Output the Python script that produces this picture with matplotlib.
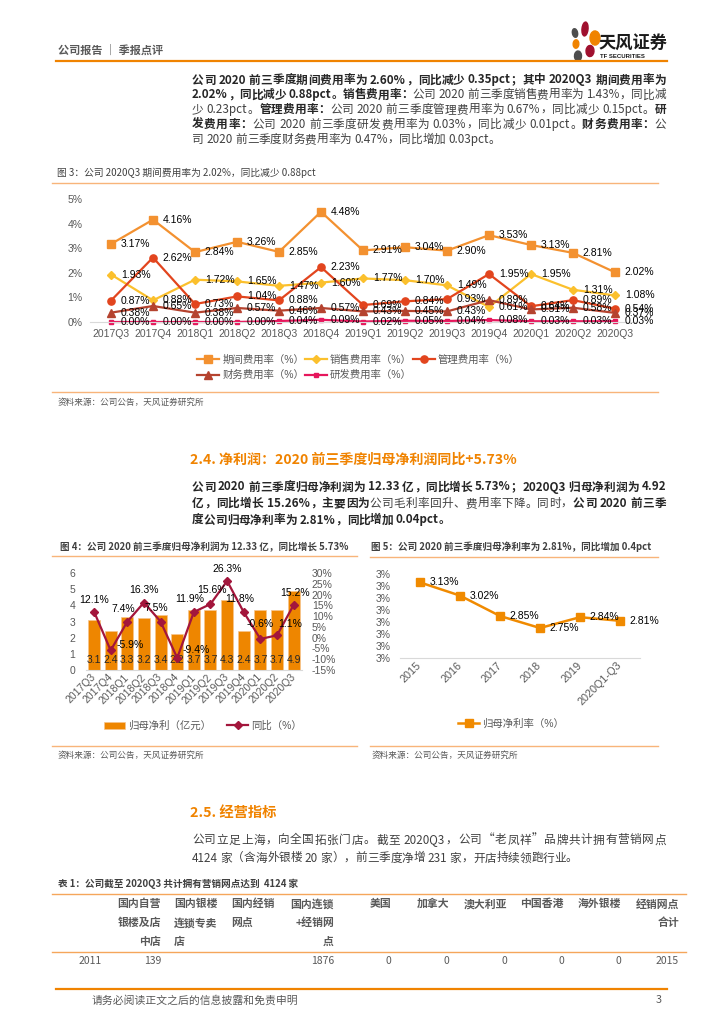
import re
import numpy as np
import matplotlib
matplotlib.use('Agg')
import matplotlib.pyplot as plt
from matplotlib.lines import Line2D
from matplotlib.patches import Ellipse
from matplotlib.ticker import FuncFormatter, MultipleLocator
from matplotlib.font_manager import FontProperties

# ---------------- data ----------------
QUARTERS = ['2017Q3', '2017Q4', '2018Q1', '2018Q2', '2018Q3', '2018Q4', '2019Q1',
            '2019Q2', '2019Q3', '2019Q4', '2020Q1', '2020Q2', '2020Q3']
PERIOD_RATE = [3.17, 4.16, 2.84, 3.26, 2.85, 4.48, 2.91, 3.04, 2.90, 3.53, 3.13, 2.81, 2.02]
SALES_RATE = [1.93, 0.88, 1.72, 1.65, 1.47, 1.60, 1.77, 1.70, 1.49, 0.61, 1.95, 1.31, 1.08]
ADMIN_RATE = [0.87, 2.62, 0.73, 1.04, 0.88, 2.23, 0.69, 0.84, 0.93, 1.95, 0.64, 0.89, 0.54]
FIN_RATE = [0.38, 0.65, 0.38, 0.57, 0.46, 0.57, 0.43, 0.45, 0.43, 0.89, 0.51, 0.58, 0.37]
RD_RATE = [0.00, 0.00, 0.00, 0.00, 0.04, 0.09, 0.02, 0.05, 0.04, 0.08, 0.03, 0.03, 0.03]
RATE_NAMES = ['期间费用率（%）', '销售费用率（%）', '管理费用率（%）', '财务费用率（%）', '研发费用率（%）']

PROFIT = [3.1, 2.4, 3.3, 3.2, 3.4, 2.2, 3.7, 3.7, 4.3, 2.4, 3.7, 3.7, 4.9]
PROFIT_YOY = [12.1, -5.9, 7.4, 16.3, 7.5, -9.4, 11.9, 15.6, 26.3, 11.8, -0.6, 1.1, 15.2]

YEARS = ['2015', '2016', '2017', '2018', '2019', '2020Q1-Q3']
NET_MARGIN = [3.13, 3.02, 2.85, 2.75, 2.84, 2.81]

TABLE_HEADER = [
    ['', '国内自营', '国内银楼', '国内经销', '国内连锁', '美国', '加拿大', '澳大利亚', '中国香港', '海外银楼', '经销网点'],
    ['', '银楼及店', '连锁专卖', '网点', '+经销网', '', '', '', '', '', '合计'],
    ['', '中店', '店', '', '点', '', '', '', '', '', ''],
]
TABLE_ROW = ['2011', '139', '', '', '1876', '0', '0', '0', '0', '0', '2015']

PARA1 = [
    [("公司 2020 前三季度期间费用率为 2.60%，同比减少 0.35pct；其中 2020Q3 期间费用率为", True)],
    [("2.02%，同比减少 0.88pct。销售费用率：", True), ("公司 2020 前三季度销售费用率为 1.43%，同比减", False)],
    [("少 0.23pct。", False), ("管理费用率：", True), ("公司 2020 前三季度管理费用率为 0.67%，同比减少 0.15pct。", False), ("研", True)],
    [("发费用率：", True), ("公司 2020 前三季度研发费用率为 0.03%，同比减少 0.01pct。", False), ("财务费用率：", True), ("公", False)],
    [("司 2020 前三季度财务费用率为 0.47%，同比增加 0.03pct。", False)],
]
PARA2 = [
    [("公司 2020 前三季度归母净利润为 12.33 亿，同比增长 5.73%；2020Q3 归母净利润为 4.92", True)],
    [("亿，同比增长 15.26%，主要因为", True), ("公司毛利率回升、费用率下降。同时，", False), ("公司 2020 前三季", True)],
    [("度公司归母净利率为 2.81%，同比增加 0.04pct。", True)],
]
PARA3 = [
    [("公司立足上海，向全国拓张门店。截至 2020Q3，公司“老凤祥”品牌共计拥有营销网点", False)],
    [("4124 家（含海外银楼 20 家），前三季度净增 231 家，开店持续领跑行业。", False)],
]

# ---------------- page helpers ----------------
W, H = 724, 1024
plt.rcParams['font.family'] = ['Liberation Sans', 'Noto Sans CJK SC']
fig = plt.figure(figsize=(7.24, 10.24), dpi=100)
renderer = fig.canvas.get_renderer()

ORANGE = '#F08300'
LIGHT_ORANGE = '#F8B47A'
GREY = '#595959'


def fx(x):
    return x / W


def fy(y):
    return 1 - y / H


def px_axes(left, top, right, bottom):
    return fig.add_axes([fx(left), fy(bottom), (right - left) / W, (bottom - top) / H])


def hline(y, x0, x1, color=LIGHT_ORANGE, lw=1.0):
    fig.add_artist(Line2D([fx(x0), fx(x1)], [fy(y), fy(y)], color=color, lw=lw,
                          transform=fig.transFigure))


def put(x, y, s, size=8, color=GREY, weight='normal', ha='left', family=None, **kw):
    fam = family or ['Noto Sans CJK SC']
    return fig.text(fx(x), fy(y), s, fontsize=size, color=color, weight=weight,
                    ha=ha, va='center', family=fam, **kw)


CJK = '\u2e80-\u9fff\u3000-\u303f\uff00-\uffef\u201c\u201d'
TOKEN_RE = re.compile('[' + CJK + ']|[^\\s' + CJK + ']+|\\s+')
_wcache = {}


def text_w(s, fp):
    key = (s, fp.get_weight(), fp.get_size())
    if key not in _wcache:
        t = fig.text(0, 0, s, fontproperties=fp)
        _wcache[key] = t.get_window_extent(renderer=renderer).width
        t.remove()
    return _wcache[key]


def para_line(x0, x1, y, segments, size=8.4, justify=True):
    # lay out token by token so the line can be justified like the report
    items = []
    for txt, bold in segments:
        fp = FontProperties(family=['Noto Sans CJK SC'], size=size,
                            weight='bold' if bold else 'normal')
        col = '#262626' if bold else '#404040'
        for tok in TOKEN_RE.findall(txt):
            if tok.isspace():
                sp = text_w('0 0', fp) - text_w('00', fp)
                items.append((None, fp, col, sp * len(tok)))
            else:
                items.append((tok, fp, col, text_w(tok, fp)))
    natural = sum(it[3] for it in items)
    gap = (x1 - x0 - natural) / max(len(items) - 1, 1) if justify else 0
    x = x0
    for tok, fp, col, w in items:
        if tok:
            fig.text(fx(x), fy(y), tok, fontproperties=fp, color=col, va='center', ha='left')
        x += w + gap


def paragraph(lines, y0, step, x0=192, x1=666):
    for i, segs in enumerate(lines):
        para_line(x0, x1, y0 + i * step, segs, justify=(i < len(lines) - 1))


def source(x, y):
    put(x, y, '资料来源：公司公告，天风证券研究所', size=6.2, color=GREY)


def style_axes(ax):
    for s in ax.spines.values():
        s.set_visible(False)
    ax.spines['bottom'].set_visible(True)
    ax.spines['bottom'].set_color('#D9D9D9')
    ax.tick_params(length=0, labelsize=7.5, labelcolor=GREY)
    ax.patch.set_alpha(0)


# ---------------- header ----------------
put(58, 50, '公司报告 ｜ 季报点评', size=8, color=GREY, weight='bold')
hline(61, 56, 667, color=ORANGE, lw=1.6)
petals = [((575, 33), 5, 9, 30, '#4D4D4D'), ((585, 29), 6, 14, -10, '#A0102E'),
          ((595, 38), 10, 14, -40, ORANGE), ((576, 44), 6, 8, 70, ORANGE),
          ((590, 51), 8, 11, 30, '#A0102E'), ((578, 56), 7, 10, -30, '#4D4D4D')]
for (cx, cy), w, h, ang, c in petals:
    fig.add_artist(Ellipse((fx(cx), fy(cy)), w / W, h / H, angle=ang, color=c,
                           transform=fig.transFigure))
put(598, 43, '天风证券', size=12.4, color='#1A1A1A', weight='bold')
put(600, 56, 'TF SECURITIES', size=4.3, color='#1A1A1A', weight='bold',
    family=['Liberation Sans'])

paragraph(PARA1, 80, 14.8)

# ---------------- figure 3 ----------------
put(57, 173, '图 3：公司 2020Q3 期间费用率为 2.02%，同比减少 0.88pct', size=7, color='#404040')
hline(183, 52, 658)
ax3 = px_axes(90, 199, 636, 322)
style_axes(ax3)
x = np.arange(len(QUARTERS))
series = [
    (PERIOD_RATE, '#F39130', 's', 5.2),
    (SALES_RATE, '#FBC02D', 'D', 4.2),
    (ADMIN_RATE, '#E2451E', 'o', 5.2),
    (FIN_RATE, '#B5432F', '^', 5.2),
    (RD_RATE, '#E6175C', 's', 2.5),
]
handles = []
for (vals, col, mk, ms), name in zip(series, RATE_NAMES):
    h, = ax3.plot(x, vals, color=col, lw=1.6, marker=mk, ms=ms, label=name, clip_on=False)
    handles.append(h)
    for xi, v in zip(x, vals):
        ax3.annotate(f'{v:.2f}%', (xi, v), xytext=(7, 0), textcoords='offset points',
                     ha='left', va='center', fontsize=7.5, color='#000000',
                     annotation_clip=False)
ax3.set_xlim(-0.5, len(QUARTERS) - 0.5)
ax3.set_ylim(0, 5)
ax3.set_xticks(x)
ax3.set_xticklabels(QUARTERS)
ax3.set_yticks(np.arange(0, 6))
ax3.yaxis.set_major_formatter(FuncFormatter(lambda v, p: f'{int(v)}%'))
ax3.tick_params(axis='x', pad=5)
ax3.tick_params(axis='y', pad=5.5)
order = [0, 3, 1, 4, 2]
fig.legend([handles[i] for i in order], [RATE_NAMES[i] for i in order], ncol=3,
           loc='upper left', bbox_to_anchor=(fx(192), fy(349)), frameon=False,
           fontsize=7.5, handlelength=2.1, handletextpad=0.3, columnspacing=0.1,
           labelspacing=0.55, borderpad=0, labelcolor=GREY)
hline(392, 52, 658)
source(58, 402)

# ---------------- section 2.4 ----------------
put(190, 460, '2.4. 净利润：2020 前三季度归母净利润同比+5.73%', size=10.1, color=ORANGE,
    weight='bold')
paragraph(PARA2, 487, 16.5)

# ---------------- figure 4 ----------------
put(60, 547, '图 4：公司 2020 前三季度归母净利润为 12.33 亿，同比增长 5.73%', size=6.9,
    color='#404040', weight='bold')
hline(556, 52, 357)
ax4 = px_axes(85.7, 573, 302, 670)
style_axes(ax4)
x4 = np.arange(len(QUARTERS))
bars = ax4.bar(x4, PROFIT, width=0.72, color='#EE8600', edgecolor='#F6C48C', lw=0.5,
               label='归母净利（亿元）')
for xi, v in zip(x4, PROFIT):
    ax4.annotate(f'{v:.1f}', (xi, 0), xytext=(0, 7.5), textcoords='offset points',
                 ha='center', va='center', fontsize=7.5, color='#262626')
ax4.set_ylim(0, 6)
ax4.set_xlim(-0.5, len(QUARTERS) - 0.5)
ax4.set_yticks(np.arange(0, 7))
ax4.set_xticks(x4)
ax4.set_xticklabels(QUARTERS, rotation=45, ha='right', va='center', rotation_mode='anchor')
ax4.tick_params(axis='y', pad=7.5)
ax4.tick_params(axis='x', pad=4)
ax4b = ax4.twinx()
for s in ax4b.spines.values():
    s.set_visible(False)
ax4b.tick_params(length=0, labelsize=7.5, labelcolor=GREY, pad=7)
ax4b.set_ylim(-15, 30)
ax4b.set_yticks(np.arange(-15, 31, 5))
ax4b.yaxis.set_major_formatter(FuncFormatter(lambda v, p: f'{int(round(v))}%'))
line4, = ax4b.plot(x4, PROFIT_YOY, color='#A3163C', lw=1.6, marker='D', ms=4.5,
                   label='同比（%）')
YOY_LABEL_OFFSETS = [(0, 8.6), (13.7, 3.6), (-2.9, 9.4), (0, 9.1), (-3.4, 9.4), (13.7, 6),
                     (-2.9, 9.1), (0.7, 9.8), (0, 8.9), (-2.9, 9.6), (0, 10.6), (9.1, 8.4),
                     (0.7, 8.9)]
for xi, v, off in zip(x4, PROFIT_YOY, YOY_LABEL_OFFSETS):
    ax4b.annotate(f'{v:.1f}%', (xi, v), xytext=off, textcoords='offset points',
                  ha='center', va='center', fontsize=7.5, color='#000000',
                  annotation_clip=False)
fig.legend([bars, line4], ['归母净利（亿元）', '同比（%）'], ncol=2, loc='center',
           bbox_to_anchor=(fx(203), fy(726)), frameon=False, fontsize=7.5,
           handlelength=2.0, handletextpad=0.3, columnspacing=1.6, borderpad=0,
           labelcolor=GREY)
hline(746, 52, 357)
source(58, 755)

# ---------------- figure 5 ----------------
put(371, 547, '图 5：公司 2020 前三季度归母净利率为 2.81%，同比增加 0.4pct', size=6.9,
    color='#404040', weight='bold')
hline(557, 370, 658)
ax5 = px_axes(400, 574, 640, 658)
style_axes(ax5)
x5 = np.arange(len(YEARS))
line5, = ax5.plot(x5, NET_MARGIN, color='#F08A00', lw=1.8, marker='s', ms=5.5,
                  label='归母净利率（%）', clip_on=False)
for xi, v in zip(x5, NET_MARGIN):
    ax5.annotate(f'{v:.2f}%', (xi, v), xytext=(7, 0), textcoords='offset points',
                 ha='left', va='center', fontsize=7.5, color='#000000',
                 annotation_clip=False)
ax5.set_xlim(-0.5, len(YEARS) - 0.5)
ax5.set_ylim(2.5, 3.2)
ax5.yaxis.set_major_locator(MultipleLocator(0.1))
ax5.yaxis.set_major_formatter(FuncFormatter(lambda v, p: f'{int(v + 0.5 + 1e-9)}%'))
ax5.set_xticks(x5)
ax5.set_xticklabels(YEARS, rotation=45, ha='right', va='center', rotation_mode='anchor',
                    fontsize=7.8)
ax5.tick_params(axis='y', pad=6.5)
ax5.tick_params(axis='x', pad=4)
fig.legend([line5], ['归母净利率（%）'], loc='center', bbox_to_anchor=(fx(511), fy(724)),
           frameon=False, fontsize=7.5, handlelength=2.0, handletextpad=0.3,
           borderpad=0, labelcolor=GREY)
hline(746, 370, 658)
source(372, 755)

# ---------------- section 2.5 ----------------
put(190, 813, '2.5. 经营指标', size=10.3, color=ORANGE, weight='bold')
paragraph(PARA3, 840, 18)

put(58, 884, '表 1：公司截至 2020Q3 共计拥有营销网点达到  4124 家', size=6.9,
    color='#404040', weight='bold')
hline(894, 52, 686, color='#F5A65B')
COL_RIGHT = [102, 161, 218, 275, 334, 391, 449, 507, 564, 621, 679]
COL_LEFT = {2: 174, 3: 231}
for r, row in enumerate(TABLE_HEADER):
    for c, s in enumerate(row):
        if not s:
            continue
        if c in COL_LEFT:
            put(COL_LEFT[c], 904 + r * 19, s, size=7.8, color=GREY, weight='bold')
        else:
            put(COL_RIGHT[c], 904 + r * 19, s, size=7.8, color=GREY, weight='bold', ha='right')
hline(952, 52, 686, color='#F5A65B')
for c, s in enumerate(TABLE_ROW):
    if s:
        put(COL_RIGHT[c], 961, s, size=7.5, color=GREY, ha='right')

# ---------------- footer ----------------
hline(989, 56, 667, color=ORANGE, lw=1.6)
put(92, 1000, '请务必阅读正文之后的信息披露和免责申明', size=7.8, color=GREY)
put(662, 1000, '3', size=7.8, color=GREY, ha='right')

fig.savefig('out.png', dpi=100)
